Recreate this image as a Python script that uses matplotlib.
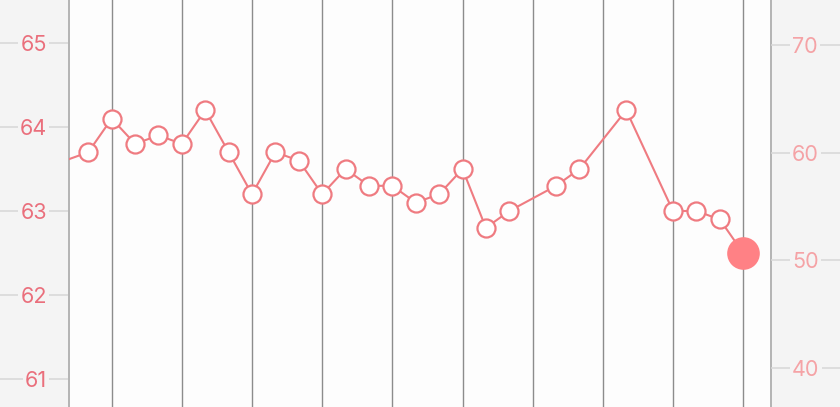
import matplotlib
matplotlib.use("Agg")
import matplotlib.pyplot as plt

plt.rcParams['font.family'] = ['Inter', 'DejaVu Sans']

# data
days = [-1, 1, 2, 3, 4, 5, 6, 7, 8, 9, 10, 11, 12, 13, 14, 15, 16, 17, 18, 19,
        21, 22, 24, 26, 27, 28, 29]
values = [63.5, 63.7, 64.1, 63.8, 63.9, 63.8, 64.2, 63.7, 63.2, 63.7, 63.6, 63.2,
          63.5, 63.3, 63.3, 63.1, 63.2, 63.5, 62.8, 63.0,
          63.3, 63.5, 64.2, 63.0, 63.0, 62.9, 62.5]
grid_days = [2, 5, 8, 11, 14, 17, 20, 23, 26, 29]
left_ticks = [61, 62, 63, 64, 65]
right_ticks = [40, 50, 60, 70]

W, H, DPI = 840, 407, 100
fig = plt.figure(figsize=(W / DPI, H / DPI), dpi=DPI, facecolor='#f4f4f4')
ax = fig.add_axes([69 / W, 0, (771 - 69) / W, 1])
ax.set_facecolor('#fdfdfd')
ax.set_xlim(0.175, 30.19)
ax.set_ylim(60.667, 65.512)

for d in grid_days:
    ax.axvline(d, color='#8c8c8c', lw=1.0, zorder=1)

line_color = '#ef7b81'
ax.plot(days, values, color=line_color, lw=1.5, zorder=3)
ax.plot(days[:-1], values[:-1], linestyle='none', marker='o', ms=13,
        mfc='white', mec=line_color, mew=1.6, zorder=4)
ax.plot(days[-1:], values[-1:], linestyle='none', marker='o', ms=23.5,
        mfc='#ff8185', mec='#ff8185', mew=0, zorder=5)

ax.set_xticks([])
for s in ['top', 'bottom']:
    ax.spines[s].set_visible(False)
for s in ['left', 'right']:
    ax.spines[s].set_color('#b4b4b4')
    ax.spines[s].set_linewidth(1.4)

tick_len = 69 * 72 / DPI
ax.set_yticks(left_ticks)
ax.set_yticklabels([str(t) for t in left_ticks])
ax.tick_params(axis='y', direction='out', length=tick_len, width=1.1,
               color='#d6d6d6', labelcolor='#ea6f7c', labelsize=15.5,
               pad=22 * 0.72 - tick_len)
for lbl in ax.get_yticklabels():
    lbl.set_bbox(dict(facecolor='#f4f4f4', edgecolor='none', pad=1.5))

ax2 = ax.twinx()
ax2.set_ylim(36.35, 74.18)
ax2.patch.set_visible(False)
for s in ax2.spines.values():
    s.set_visible(False)
ax2.set_yticks(right_ticks)
ax2.set_yticklabels([str(t) for t in right_ticks])
ax2.tick_params(axis='y', direction='out', length=tick_len, width=1.1,
                color='#d6d6d6', labelcolor='#f5a3a6', labelsize=15.5,
                pad=21 * 0.72 - tick_len)
for lbl in ax2.get_yticklabels():
    lbl.set_bbox(dict(facecolor='#f4f4f4', edgecolor='none', pad=1.5))

fig.savefig('out.png', dpi=DPI, facecolor=fig.get_facecolor())
